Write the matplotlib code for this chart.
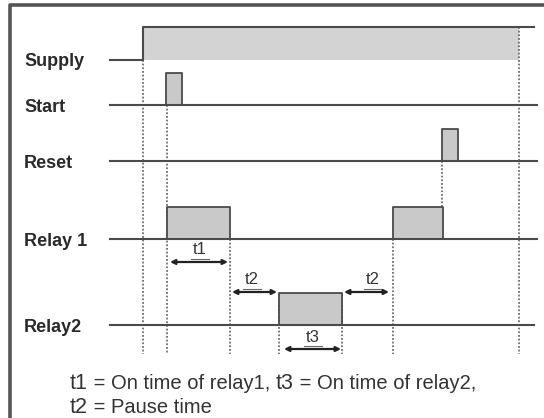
import matplotlib
matplotlib.use("Agg")
import matplotlib.pyplot as plt

# ---------------- data (time axis in chart units) ----------------
signal_names = ["Supply", "Start", "Reset", "Relay 1", "Relay2"]
line_start = 110
line_end = [143, 537, 537, 537, 534]

supply_on = 143
supply_fill_end = 519
supply_line_end = 534

start_pulses = [(166, 182)]
reset_pulses = [(442, 458)]
relay1_pulses = [(167, 230), (393, 443)]
relay2_pulses = [(279, 342)]

# timing intervals: (label, t_from, t_to, row)
intervals = [("t1", 170, 228, 0), ("t2", 232, 277, 1),
             ("t2", 344, 389, 1), ("t3", 284, 341, 2)]
interval_label_x = [200, 252, 373, 313]

# dotted guide lines: (x, y_top, y_bottom)
guides = [(143, 60, 354), (167, 105, 354), (230, 239, 354),
          (279, 294, 354), (342, 294, 354), (393, 239, 354),
          (442, 161, 207), (519, 27, 354)]

legend_line1 = [("t1", " = On time of relay1, "), ("t3", " = On time of relay2,")]
legend_line2 = [("t2", " = Pause time")]

# ---------------- layout ----------------
row_y = [60, 105, 161, 239, 325]
pulse_h = 32
arrow_y = [262, 292, 349]

LINE = "#4a4a4a"
FILL = "#c9c9c9"
SUPFILL = "#d3d3d3"
TXT = "#333333"

fig = plt.figure(figsize=(5.44, 4.18), dpi=100)
ax = fig.add_axes([0, 0, 1, 1])
ax.set_xlim(0, 544)
ax.set_ylim(418, 0)
ax.axis("off")

# frame
ax.plot([10, 10, 544], [418, 5, 5], color="#555555", lw=2.6, solid_capstyle="butt")

# labels
for name, y in zip(signal_names, row_y):
    ax.text(24, y + 6.5, name, fontsize=13, fontweight="bold",
            family="Liberation Sans", color="#2a2a2a", va="baseline", ha="left")

# supply
ys = row_y[0]
ax.fill_between([supply_on, supply_fill_end], ys, ys - pulse_h - 1,
                color=SUPFILL, lw=0)
ax.plot([line_start, supply_on, supply_on, supply_line_end],
        [ys, ys, ys - pulse_h - 1, ys - pulse_h - 1], color=LINE, lw=1.5)

# baselines + pulses
def draw_row(idx, pulses):
    y = row_y[idx]
    ax.plot([line_start, line_end[idx]], [y, y], color=LINE, lw=1.5, zorder=3)
    for a, b in pulses:
        ax.fill_between([a, b], y, y - pulse_h, color=FILL, lw=0, zorder=2)
        ax.plot([a, a, b, b], [y, y - pulse_h, y - pulse_h, y],
                color=LINE, lw=1.3, zorder=3)

draw_row(1, start_pulses)
draw_row(2, reset_pulses)
draw_row(3, relay1_pulses)
draw_row(4, relay2_pulses)

# dotted guides
for x, y0, y1 in guides:
    ax.plot([x, x], [y0, y1], color="#555555", lw=1.1, ls=(0, (1.2, 1.2)), zorder=1)

# interval arrows
for (lab, a, b, r), lx in zip(intervals, interval_label_x):
    y = arrow_y[r]
    ax.annotate("", xy=(b, y), xytext=(a, y),
                arrowprops=dict(arrowstyle="<|-|>", color="#222222", lw=1.6,
                                mutation_scale=7, shrinkA=0, shrinkB=0))
    ax.text(lx, y - 4.5, lab, fontsize=12, family="Liberation Sans",
            color=TXT, ha="center", va="bottom")
    ax.plot([lx - 9, lx + 9], [y - 3.5, y - 3.5], color="#666666", lw=0.8)

# legend text
def write_line(x, y, parts):
    for big, rest in parts:
        t = ax.text(x, y, big, fontsize=15.5, family="Liberation Sans",
                    color=TXT, va="baseline")
        fig.canvas.draw()
        x = t.get_window_extent().x1
        t2 = ax.text(x, y, rest, fontsize=14.5, family="Liberation Sans",
                     color=TXT, va="baseline")
        fig.canvas.draw()
        x = t2.get_window_extent().x1

write_line(70, 389, legend_line1)
write_line(70, 413, legend_line2)

fig.savefig("out.png", dpi=100)
